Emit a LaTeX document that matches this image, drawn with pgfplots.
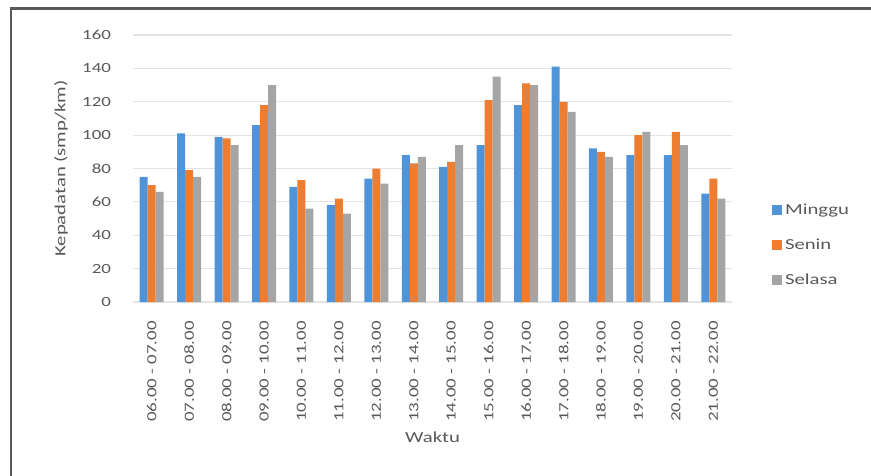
\documentclass[border=0pt]{standalone}
\usepackage{fontspec}
\setmainfont{Carlito}[FakeStretch=1.35]
\usepackage{pgfplots}
\pgfplotsset{compat=1.18}
\definecolor{cMinggu}{HTML}{4F93D8}
\definecolor{cSenin}{HTML}{ED7D31}
\definecolor{cSelasa}{HTML}{A5A5A5}
\definecolor{txt}{HTML}{595959}
\definecolor{gridc}{HTML}{E4E4E4}
\begin{document}
\begin{tikzpicture}
\useasboundingbox (-99.75pt,-129.75pt) rectangle (553.5pt,226.5pt);
\draw[line width=2.2pt, color=black!65] (-91.5pt,-140pt) |- (560pt,220pt);
\begin{axis}[
  at={(0pt,0pt)}, anchor=south west,
  scale only axis, width=449.25pt, height=200.25pt,
  ymin=0, ymax=160, ytick={0,20,...,160},
  xmin=-0.5, xmax=15.5, xtick={0,...,15},
  xticklabels={06.00 - 07.00,07.00 - 08.00,08.00 - 09.00,09.00 - 10.00,10.00 - 11.00,11.00 - 12.00,12.00 - 13.00,13.00 - 14.00,14.00 - 15.00,15.00 - 16.00,16.00 - 17.00,17.00 - 18.00,18.00 - 19.00,19.00 - 20.00,20.00 - 21.00,21.00 - 22.00},
  x tick label style={rotate=90, anchor=east, font=\fontsize{10.5}{12}\selectfont, text=txt},
  y tick label style={font=\fontsize{10.5}{12}\selectfont, text=txt},
  xtick distance=1,
  /pgf/number format/assume math mode=true,
  major tick length=0pt,
  xticklabel shift=11pt, yticklabel shift=13pt,
  axis line style={draw=none},
  ymajorgrids, grid style={gridc, line width=0.8pt},
  ybar=0pt, bar width=6pt,
  xlabel={Waktu}, ylabel={Kepadatan (smp/km)},
  label style={font=\fontsize{11.5}{13}\selectfont, text=txt},
  xlabel style={at={(axis description cs:0.5,-0.506)}, anchor=center},
  ylabel style={at={(axis description cs:-0.12,0.5)}, anchor=center, rotate=0},
  legend style={at={(1.067,0.213)}, anchor=west, draw=none, fill=none,
    inner sep=0pt, row sep=13pt,
    font=\fontsize{11.5}{13}\selectfont, text=txt,
    legend cell align=left},
  legend image code/.code={\fill[#1] (0pt,-3.75pt) rectangle (7.5pt,3.75pt);},
]
\addplot[fill=cMinggu, draw=none] coordinates {
  (0,75) (1,101) (2,99) (3,106) (4,69) (5,58) (6,74) (7,88)
  (8,81) (9,94) (10,118) (11,141) (12,92) (13,88) (14,88) (15,65)};
\addplot[fill=cSenin, draw=none] coordinates {
  (0,70) (1,79) (2,98) (3,118) (4,73) (5,62) (6,80) (7,83)
  (8,84) (9,121) (10,131) (11,120) (12,90) (13,100) (14,102) (15,74)};
\addplot[fill=cSelasa, draw=none] coordinates {
  (0,66) (1,75) (2,94) (3,130) (4,56) (5,53) (6,71) (7,87)
  (8,94) (9,135) (10,130) (11,114) (12,87) (13,102) (14,94) (15,62)};
\legend{Minggu,Senin,Selasa}
\end{axis}
\end{tikzpicture}
\end{document}
